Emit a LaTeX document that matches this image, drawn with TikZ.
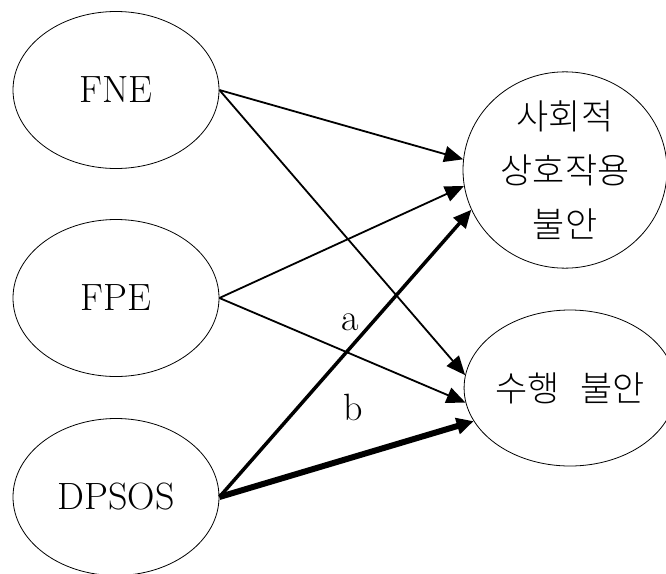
\documentclass[tikz,border=0pt]{standalone}
\usepackage{fontspec}
\newfontfamily\kr{Noto Sans CJK KR}[UprightFont={* Light}]
\usetikzlibrary{shapes.geometric,arrows.meta}
\begin{document}
\begin{tikzpicture}[x=1pt,y=-1pt,
  ell/.style={draw,ellipse,line width=0.8pt,minimum width=206pt,minimum height=157pt,inner sep=0pt,font=\fontsize{38}{44}\selectfont},
  kell/.style={ell,font=\kr\fontsize{35}{54}\selectfont,align=center},
  thinarr/.style={line width=1.8pt,-{Triangle[length=19pt,width=16pt]}},
  midarr/.style={line width=3.5pt,-{Triangle[length=18pt,width=16pt]}},
  boldarr/.style={line width=6pt,-{Triangle[length=17pt,width=16pt]}},
  lab/.style={font=\fontsize{38}{44}\selectfont}]
\useasboundingbox (0,0) rectangle (666,573);
\node[ell] (fne) at (116,90) {FNE};
\node[ell] (fpe) at (116,298) {FPE};
\node[ell] (dps) at (116,497) {DPSOS};
\node[kell,minimum width=204pt,minimum height=158pt] (soc) at (565,170) {사회적\\상호작용\\불안};
\node[kell,minimum width=204pt,minimum height=156pt] (perf) at (570,388) {수행\hspace{0.6em}불안};
\draw[thinarr] (fne.east) -- (soc.174);
\draw[thinarr] (fpe.east) -- (soc.189);
\draw[thinarr] (fne.east) -- (perf.173);
\draw[thinarr] (fpe.east) -- (perf.188);
\draw[midarr] (dps.east) -- (soc.203);
\draw[boldarr] (dps.east) -- (perf.199);
\node[lab] (la) at (350,322) {a};
\node[lab] (lb) at (353,407) {b};
\end{tikzpicture}
\end{document}
